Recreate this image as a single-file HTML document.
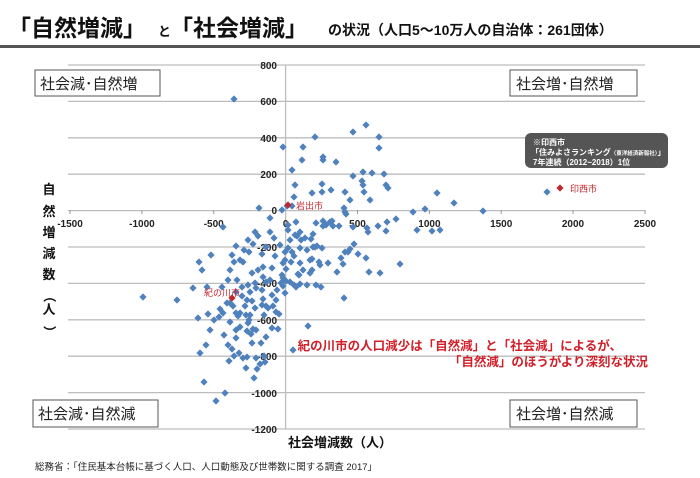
<!DOCTYPE html>
<html><head><meta charset="utf-8"><style>
body{margin:0;background:#fff;}
svg{display:block;font-family:"Liberation Sans","Noto Sans CJK JP",sans-serif;}
</style></head><body>
<svg width="700" height="478" viewBox="0 0 700 478" xmlns="http://www.w3.org/2000/svg">
<rect width="700" height="478" fill="#fff"/>
<text x="8" y="36" font-size="23" font-weight="bold" fill="#111">「自然増減」</text>
<text x="158" y="36" font-size="13" font-weight="bold" fill="#111">と</text>
<text x="170" y="36" font-size="23" font-weight="bold" fill="#111">「社会増減」</text>
<text x="328" y="35" font-size="14" font-weight="bold" fill="#111">の状況（人口5～10万人の自治体：261団体）</text>
<rect x="0" y="45" width="700" height="3" fill="#555"/>
<g stroke="#bdbdbd" stroke-width="1.3">
<line x1="68" x2="645" y1="65" y2="65"/><line x1="68" x2="645" y1="101.4" y2="101.4"/>
<line x1="68" x2="645" y1="137.8" y2="137.8"/><line x1="68" x2="645" y1="174.2" y2="174.2"/>
<line x1="68" x2="645" y1="210.6" y2="210.6"/><line x1="68" x2="645" y1="247" y2="247"/>
<line x1="68" x2="645" y1="283.4" y2="283.4"/><line x1="68" x2="645" y1="319.8" y2="319.8"/>
<line x1="68" x2="645" y1="356.2" y2="356.2"/><line x1="68" x2="645" y1="392.6" y2="392.6"/>
<line x1="68" x2="645" y1="429" y2="429"/>
<line x1="285.6" x2="285.6" y1="65" y2="429"/>
</g>
<g stroke="#999" stroke-width="1">
<line x1="70" x2="70" y1="210" y2="214"/><line x1="141.9" x2="141.9" y1="210" y2="214"/><line x1="213.7" x2="213.7" y1="210" y2="214"/><line x1="357.5" x2="357.5" y1="210" y2="214"/><line x1="429.4" x2="429.4" y1="210" y2="214"/><line x1="501.2" x2="501.2" y1="210" y2="214"/><line x1="573" x2="573" y1="210" y2="214"/><line x1="645" x2="645" y1="210" y2="214"/>
</g>
<g font-size="10" font-weight="bold" fill="#222" text-anchor="end">
<text x="277" y="69">800</text><text x="277" y="105">600</text><text x="277" y="142">400</text><text x="277" y="178">200</text><text x="277" y="214">0</text><text x="277" y="251">-200</text><text x="277" y="287">-400</text><text x="277" y="324">-600</text><text x="277" y="360">-800</text><text x="277" y="397">-1000</text><text x="277" y="433">-1200</text>
</g>
<g font-size="10" font-weight="bold" fill="#222" text-anchor="middle">
<text x="70" y="227">-1500</text><text x="141.9" y="227">-1000</text><text x="213.7" y="227">-500</text><text x="285.6" y="227">0</text><text x="357.5" y="227">500</text><text x="429.4" y="227">1000</text><text x="501.2" y="227">1500</text><text x="573" y="227">2000</text><text x="645" y="227">2500</text>
</g>
<defs><path id="d" d="M0,-3.6L3.6,0L0,3.6L-3.6,0Z" fill="#4f81bd"/></defs>
<g>
<use href="#d" x="366" y="125"/><use href="#d" x="353" y="132"/><use href="#d" x="379" y="137"/><use href="#d" x="315" y="137"/><use href="#d" x="303" y="147"/><use href="#d" x="379" y="148"/><use href="#d" x="302" y="160"/><use href="#d" x="323" y="157"/><use href="#d" x="323" y="160"/><use href="#d" x="292" y="170"/><use href="#d" x="336" y="162"/><use href="#d" x="353" y="176"/><use href="#d" x="372" y="173"/><use href="#d" x="363" y="172"/><use href="#d" x="384" y="174"/><use href="#d" x="362" y="181"/><use href="#d" x="363" y="185"/><use href="#d" x="386" y="185"/><use href="#d" x="388" y="188"/><use href="#d" x="295" y="185"/><use href="#d" x="322" y="184"/><use href="#d" x="322" y="192"/><use href="#d" x="312" y="193"/><use href="#d" x="331" y="190"/><use href="#d" x="345" y="192"/><use href="#d" x="364" y="192"/><use href="#d" x="294" y="197"/><use href="#d" x="350" y="200"/><use href="#d" x="370" y="200"/><use href="#d" x="437" y="193"/><use href="#d" x="454" y="203"/><use href="#d" x="440" y="230"/><use href="#d" x="292" y="206"/><use href="#d" x="344" y="208"/><use href="#d" x="346" y="214"/><use href="#d" x="425" y="209"/><use href="#d" x="483" y="211"/><use href="#d" x="345" y="212"/><use href="#d" x="413" y="212"/><use href="#d" x="387" y="222"/><use href="#d" x="332" y="221"/><use href="#d" x="316" y="223"/><use href="#d" x="323" y="221"/><use href="#d" x="330" y="222"/><use href="#d" x="396" y="219"/><use href="#d" x="288" y="225"/><use href="#d" x="323" y="226"/><use href="#d" x="333" y="226"/><use href="#d" x="339" y="226"/><use href="#d" x="353" y="227"/><use href="#d" x="367" y="228"/><use href="#d" x="378" y="226"/><use href="#d" x="386" y="231"/><use href="#d" x="417" y="230"/><use href="#d" x="432" y="231"/><use href="#d" x="296" y="222"/><use href="#d" x="326" y="225"/><use href="#d" x="297" y="236"/><use href="#d" x="288" y="230"/><use href="#d" x="300" y="232"/><use href="#d" x="295" y="235"/><use href="#d" x="368" y="232"/><use href="#d" x="313" y="234"/><use href="#d" x="301" y="240"/><use href="#d" x="305" y="238"/><use href="#d" x="311" y="239"/><use href="#d" x="317" y="246"/><use href="#d" x="300" y="248"/><use href="#d" x="307" y="250"/><use href="#d" x="313" y="247"/><use href="#d" x="315" y="247"/><use href="#d" x="322" y="248"/><use href="#d" x="350" y="249"/><use href="#d" x="345" y="252"/><use href="#d" x="348" y="252"/><use href="#d" x="354" y="244"/><use href="#d" x="358" y="254"/><use href="#d" x="341" y="258"/><use href="#d" x="366" y="258"/><use href="#d" x="285" y="260"/><use href="#d" x="283" y="263"/><use href="#d" x="300" y="263"/><use href="#d" x="310" y="260"/><use href="#d" x="312" y="259"/><use href="#d" x="328" y="263"/><use href="#d" x="343" y="264"/><use href="#d" x="320" y="265"/><use href="#d" x="319" y="262"/><use href="#d" x="400" y="264"/><use href="#d" x="312" y="270"/><use href="#d" x="337" y="272"/><use href="#d" x="369" y="272"/><use href="#d" x="298" y="274"/><use href="#d" x="299" y="275"/><use href="#d" x="310" y="273"/><use href="#d" x="303" y="270"/><use href="#d" x="380" y="273"/><use href="#d" x="300" y="284"/><use href="#d" x="307" y="285"/><use href="#d" x="316" y="285"/><use href="#d" x="321" y="287"/><use href="#d" x="344" y="298"/><use href="#d" x="283" y="278"/><use href="#d" x="294" y="285"/><use href="#d" x="290" y="282"/><use href="#d" x="286" y="281"/><use href="#d" x="296" y="287"/><use href="#d" x="547" y="192"/><use href="#d" x="234" y="99"/><use href="#d" x="283" y="147"/>
<use href="#d" x="223" y="227"/><use href="#d" x="259" y="208"/><use href="#d" x="270" y="218"/><use href="#d" x="282" y="210"/><use href="#d" x="287" y="206"/><use href="#d" x="255" y="232"/><use href="#d" x="248" y="240"/><use href="#d" x="253" y="244"/><use href="#d" x="258" y="236"/><use href="#d" x="270" y="232"/><use href="#d" x="274" y="238"/><use href="#d" x="280" y="245"/><use href="#d" x="266" y="247"/><use href="#d" x="262" y="254"/><use href="#d" x="275" y="256"/><use href="#d" x="292" y="252"/><use href="#d" x="294" y="256"/><use href="#d" x="249" y="252"/><use href="#d" x="244" y="250"/><use href="#d" x="236" y="246"/><use href="#d" x="232" y="255"/><use href="#d" x="240" y="260"/><use href="#d" x="234" y="262"/><use href="#d" x="211" y="255"/><use href="#d" x="199" y="262"/><use href="#d" x="202" y="270"/><use href="#d" x="230" y="270"/><use href="#d" x="243" y="262"/><use href="#d" x="263" y="267"/><use href="#d" x="252" y="273"/><use href="#d" x="258" y="270"/><use href="#d" x="263" y="277"/><use href="#d" x="272" y="268"/><use href="#d" x="270" y="280"/><use href="#d" x="282" y="275"/><use href="#d" x="286" y="269"/><use href="#d" x="291" y="262"/><use href="#d" x="281" y="283"/><use href="#d" x="277" y="290"/><use href="#d" x="266" y="282"/><use href="#d" x="255" y="283"/><use href="#d" x="248" y="285"/><use href="#d" x="242" y="287"/><use href="#d" x="237" y="280"/><use href="#d" x="228" y="280"/><use href="#d" x="242" y="296"/><use href="#d" x="250" y="292"/><use href="#d" x="256" y="288"/><use href="#d" x="262" y="290"/><use href="#d" x="263" y="299"/><use href="#d" x="272" y="295"/><use href="#d" x="276" y="300"/><use href="#d" x="283" y="286"/><use href="#d" x="285" y="293"/><use href="#d" x="193" y="288"/><use href="#d" x="207" y="287"/><use href="#d" x="222" y="287"/><use href="#d" x="236" y="292"/><use href="#d" x="227" y="303"/><use href="#d" x="233" y="306"/><use href="#d" x="245" y="306"/><use href="#d" x="247" y="300"/><use href="#d" x="252" y="301"/><use href="#d" x="255" y="308"/><use href="#d" x="266" y="306"/><use href="#d" x="273" y="306"/><use href="#d" x="279" y="314"/><use href="#d" x="223" y="313"/><use href="#d" x="219" y="317"/><use href="#d" x="214" y="320"/><use href="#d" x="208" y="314"/><use href="#d" x="198" y="318"/><use href="#d" x="240" y="313"/><use href="#d" x="250" y="315"/><use href="#d" x="264" y="315"/><use href="#d" x="268" y="308"/><use href="#d" x="143" y="297"/><use href="#d" x="177" y="300"/><use href="#d" x="220" y="309"/><use href="#d" x="230" y="303"/><use href="#d" x="236" y="313"/><use href="#d" x="246" y="315"/><use href="#d" x="249" y="320"/><use href="#d" x="262" y="305"/><use href="#d" x="276" y="312"/><use href="#d" x="238" y="316"/><use href="#d" x="248" y="323"/><use href="#d" x="230" y="322"/><use href="#d" x="240" y="327"/><use href="#d" x="236" y="330"/><use href="#d" x="224" y="335"/><use href="#d" x="247" y="331"/><use href="#d" x="236" y="338"/><use href="#d" x="251" y="334"/><use href="#d" x="210" y="330"/><use href="#d" x="253" y="329"/><use href="#d" x="256" y="330"/><use href="#d" x="272" y="328"/><use href="#d" x="228" y="345"/><use href="#d" x="252" y="343"/><use href="#d" x="261" y="343"/><use href="#d" x="266" y="337"/><use href="#d" x="278" y="329"/><use href="#d" x="232" y="349"/><use href="#d" x="206" y="345"/><use href="#d" x="239" y="353"/><use href="#d" x="234" y="356"/><use href="#d" x="243" y="358"/><use href="#d" x="247" y="357"/><use href="#d" x="256" y="358"/><use href="#d" x="264" y="356"/><use href="#d" x="265" y="362"/><use href="#d" x="260" y="364"/><use href="#d" x="229" y="361"/><use href="#d" x="246" y="368"/><use href="#d" x="257" y="369"/><use href="#d" x="200" y="353"/><use href="#d" x="254" y="378"/><use href="#d" x="204" y="382"/><use href="#d" x="225" y="393"/><use href="#d" x="216" y="401"/><use href="#d" x="308" y="326"/><use href="#d" x="293" y="350"/><use href="#d" x="285" y="252"/><use href="#d" x="288" y="248"/><use href="#d" x="290" y="240"/>
</g>
<path d="M288,201.4L291.6,205L288,208.6L284.4,205Z" fill="#c0282d"/>
<text x="296" y="209" font-size="9" fill="#c0282d">岩出市</text>
<path d="M232,294.4L235.6,298L232,301.6L228.4,298Z" fill="#c0282d"/>
<text x="204" y="296" font-size="9" fill="#c0282d">紀の川市</text>
<path d="M560,184.4L563.6,188L560,191.6L556.4,188Z" fill="#c0282d"/>
<text x="570" y="192" font-size="9" fill="#c0282d">印西市</text>
<rect x="525" y="133" width="143" height="35" rx="6" fill="#555"/>
<text x="533" y="145" font-size="8" fill="#fff" font-weight="bold">※印西市</text>
<text x="531" y="155" font-size="8" fill="#fff" font-weight="bold">「住みよさランキング<tspan font-size="5.5">（東洋経済新報社）</tspan>」</text>
<text x="533" y="165" font-size="8" fill="#fff" font-weight="bold">7年連続（2012~2018）1位</text>
<g fill="#fff" stroke="#555" stroke-width="1">
<rect x="35" y="70" width="125" height="26"/><rect x="510" y="70" width="127" height="26"/>
<rect x="33" y="400" width="125" height="27"/><rect x="510" y="400" width="127" height="27"/>
</g>
<g font-size="15" fill="#222">
<text x="40" y="89">社会減･自然増</text><text x="516" y="89">社会増･自然増</text>
<text x="38" y="419">社会減･自然減</text><text x="516" y="419">社会増･自然減</text>
</g>
<g font-size="12.5" font-weight="bold" fill="#d0202a" text-anchor="end">
<text x="622" y="350">紀の川市の人口減少は「自然減」と「社会減」によるが、</text>
<text x="648" y="366">「自然減」のほうがより深刻な状況</text>
</g>
<text x="340" y="447" font-size="13" font-weight="bold" fill="#111" text-anchor="middle">社会増減数（人）</text>
<g font-size="13" font-weight="bold" fill="#111" text-anchor="middle">
<text x="49" y="194">自</text><text x="49" y="216">然</text><text x="49" y="237">増</text><text x="49" y="258">減</text><text x="49" y="279">数</text>
<text x="49" y="300" transform="rotate(90 49 296)">（</text><text x="49" y="314">人</text><text x="49" y="336" transform="rotate(90 49 332)">）</text>
</g>
<text x="35" y="470" font-size="9.5" fill="#222">総務省：「住民基本台帳に基づく人口、人口動態及び世帯数に関する調査 2017」</text>
</svg>
</body></html>
